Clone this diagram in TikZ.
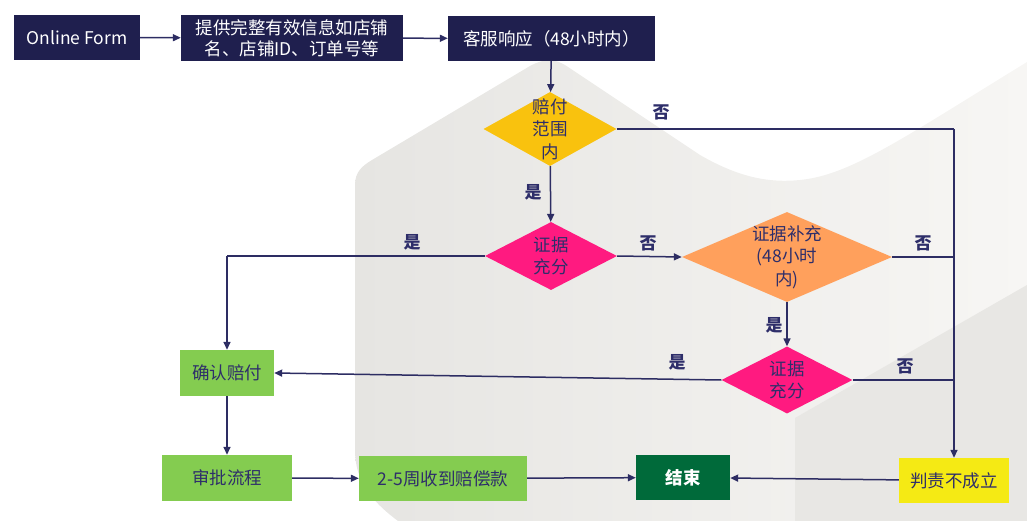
\documentclass[tikz,border=0pt]{standalone}
\usepackage{fontspec}
\setmainfont{Noto Sans CJK SC}
\usetikzlibrary{shapes.geometric,arrows.meta}
\definecolor{navy}{HTML}{1F1F4E}
\definecolor{linec}{HTML}{2D2D63}
\definecolor{txtc}{HTML}{2E2E6A}
\definecolor{dyellow}{HTML}{F9C20E}
\definecolor{dpink}{HTML}{FF1A80}
\definecolor{dorange}{HTML}{FFA05C}
\definecolor{lgreen}{HTML}{84CC50}
\definecolor{dgreen}{HTML}{006A3A}
\definecolor{byellow}{HTML}{F5EA14}
\definecolor{bgA}{HTML}{E6E5E2}
\definecolor{bgB}{HTML}{F7F6F4}
\definecolor{bgC}{HTML}{E8E7E4}
\begin{document}
\begin{tikzpicture}[x=1pt,y=-1pt,
  navybox/.style={rectangle, fill=navy, text=white, inner sep=0, align=center,
    font=\fontsize{17.5}{21}\selectfont},
  colbox/.style={rectangle, fill=#1, text=txtc, inner sep=0, align=center,
    font=\fontsize{17.5}{21}\selectfont},
  dia/.style={diamond, fill=#1, inner sep=0},
  dtext/.style={text=txtc, inner sep=0, align=center,
    font=\fontsize{17.5}{22.5}\selectfont},
  lbl/.style={text=txtc, inner sep=0, font=\bfseries\fontsize{17}{20}\selectfont},
  conn/.style={draw=linec, line width=1.5pt},
  arr/.style={conn, -{Triangle[length=8pt,width=7pt]}}]
\useasboundingbox (0,0) rectangle (1027,521);
% background shapes
\shade[left color=bgA, right color=bgB]
  (398,521) .. controls (370,500) and (355,480) .. (355,450) -- (355,185)
  .. controls (355,172) and (362,166) .. (372,160) -- (530,66)
  .. controls (545,58) and (555,58) .. (568,67) -- (700,155)
  .. controls (740,178) and (770,183) .. (800,180)
  .. controls (850,175) and (900,140) .. (1027,62) -- (1027,521) -- cycle;
\fill[bgC] (795,521) -- (795,418) -- (1027,285) -- (1027,521) -- cycle;
% top row
\node[navybox, minimum width=126pt, minimum height=45pt] (of) at (77,37.5) {Online Form};
\node[navybox, minimum width=222pt, minimum height=46pt] (info) at (292,38)
  {提供完整有效信息如店铺\\名、店铺ID、订单号等};
\node[navybox, minimum width=207pt, minimum height=45pt] (cs) at (551.5,38.5) {客服响应（48小时内）};
% diamonds
\node[dia=dyellow, minimum width=133pt, minimum height=74pt] (d1) at (550,129) {};
\node[dtext] (t1) at (d1) {赔付\\范围\\内};
\node[dia=dpink, minimum width=132pt, minimum height=68pt] (d2) at (551,256) {};
\node[dtext] (t2) at (d2) {证据\\充分};
\node[dia=dorange, minimum width=210pt, minimum height=90pt] (d3) at (787,257) {};
\node[dtext] (t3) at (d3) {证据补充\\(48小时\\内)};
\node[dia=dpink, minimum width=131pt, minimum height=67pt] (d4) at (787,380) {};
\node[dtext] (t4) at (d4) {证据\\充分};
% boxes
\node[colbox=lgreen, minimum width=94pt, minimum height=46pt] (conf) at (227,373) {确认赔付};
\node[colbox=lgreen, minimum width=130pt, minimum height=46pt] (appr) at (227,478) {审批流程};
\node[colbox=lgreen, minimum width=168pt, minimum height=45pt] (recv) at (443,478.5) {2-5周收到赔偿款};
\node[colbox=dgreen, text=white, font=\bfseries\fontsize{17.5}{21}\selectfont,
  minimum width=94pt, minimum height=45pt] (end) at (683,477.5) {结束};
\node[colbox=byellow, minimum width=110pt, minimum height=45pt] (rej) at (954,480.5) {判责不成立};
% connectors
\coordinate (j1) at (d1.east -| rej.north);
\coordinate (j3) at (d3.east -| rej.north);
\coordinate (j4) at (d4.east -| rej.north);
\coordinate (k2) at (d2.west -| conf.north);
\draw[arr] (of) -- (info);
\draw[arr] (info) -- (cs);
\draw[arr] (cs) -- (d1);
\draw[conn] (d1.east) -- (j1);
\draw[arr] (j1) -- (rej.north);
\draw[arr] (d1) -- (d2);
\draw[arr] (d2.east) -- (d3.west);
\draw[conn] (d3.east) -- (j3);
\draw[arr] (d3) -- (d4);
\draw[conn] (d4.east) -- (j4);
\draw[conn] (d2.west) -- (k2);
\draw[arr] (k2) -- (conf.north);
\draw[arr] (d4.west) -- (conf.east);
\draw[arr] (conf) -- (appr);
\draw[arr] (appr) -- (recv);
\draw[arr] (recv) -- (end);
\draw[arr] (rej) -- (end);
% labels
\node[lbl] (l1) at (661,112) {否};
\node[lbl] (l2) at (533,192) {是};
\node[lbl] (l3) at (412,242) {是};
\node[lbl] (l4) at (648,243) {否};
\node[lbl] (l5) at (923,243) {否};
\node[lbl] (l6) at (774,325) {是};
\node[lbl] (l7) at (677,362) {是};
\node[lbl] (l8) at (905,366) {否};
\end{tikzpicture}
\end{document}
